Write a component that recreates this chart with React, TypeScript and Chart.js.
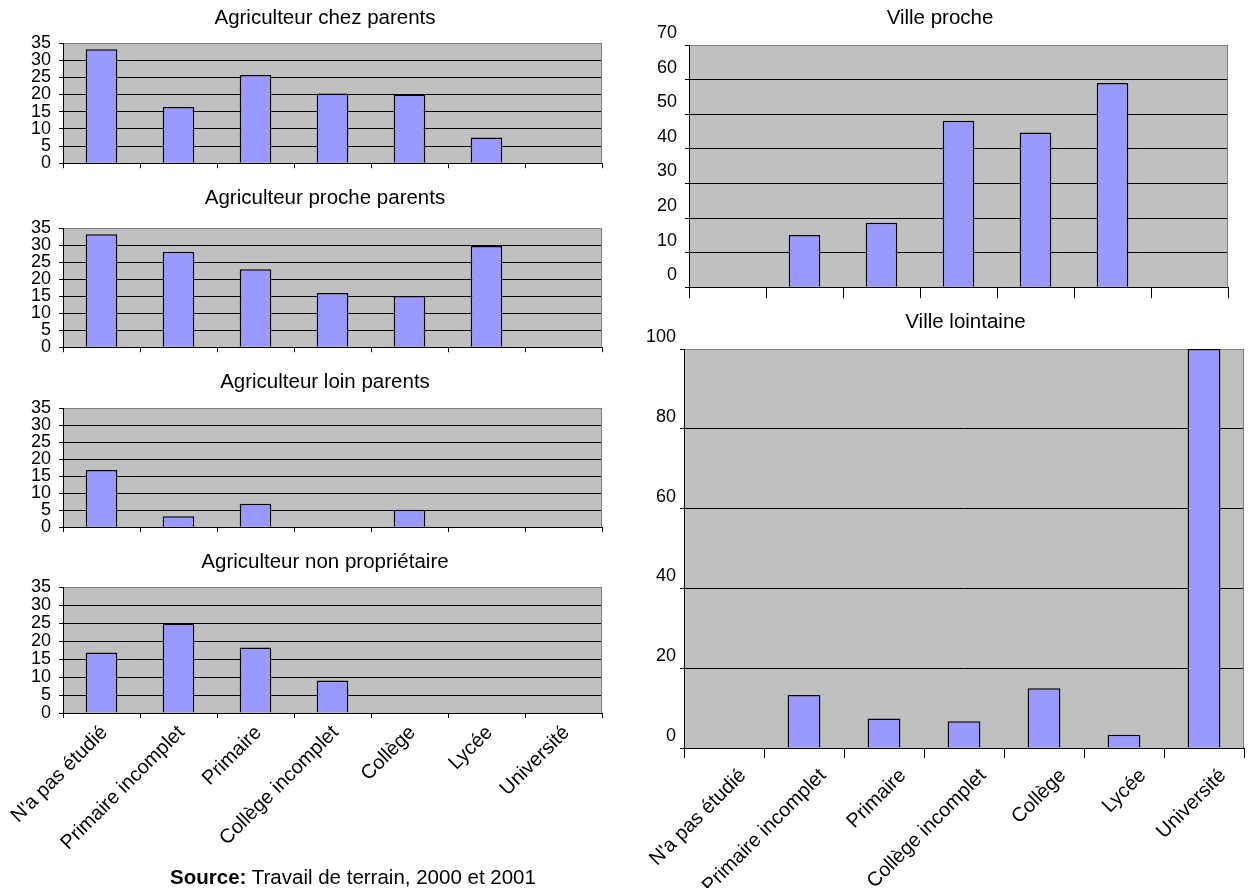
import React, { useEffect, useRef } from 'react';
import { Chart, registerables } from 'chart.js';

Chart.register(...registerables);

// ---- Data ----
const categories = [
  "N'a pas étudié",
  'Primaire incomplet',
  'Primaire',
  'Collège incomplet',
  'Collège',
  'Lycée',
  'Université',
];

const chezParents = [33.2, 16.4, 25.7, 20.3, 20.0, 7.5, 0];
const procheParents = [33.2, 28.0, 22.9, 15.9, 15.0, 29.7, 0];
const loinParents = [16.8, 3.2, 6.9, 0, 5.1, 0, 0];
const nonProprietaire = [16.8, 24.8, 18.2, 9.0, 0, 0, 0];
const villeProche = [0, 15.1, 18.6, 48.1, 44.7, 59.0, 0];
const villeLointaine = [0, 13.3, 7.4, 6.7, 15.0, 3.3, 100];

const titles = [
  'Agriculteur chez parents',
  'Agriculteur proche parents',
  'Agriculteur loin parents',
  'Agriculteur non propriétaire',
  'Ville proche',
  'Ville lointaine',
];

const FONT = "'Liberation Sans', Arial, Helvetica, sans-serif";

type Panel = {
  title: string;
  data: number[];
  yMax: number;
  yStep: number;
  left: number;
  top: number;
  width: number;
  height: number;
  plotTop: number;
  plotBottom: number;
  plotLeft: number;
  plotRight: number;
  titleY: number;
  titleDx: number;
  labelOffset: number;
  labelPad: number;
  xTickLen: number;
  xLabelOffset: number;
  xLabelPad: number;
  showX: boolean;
};

const panels: Panel[] = [
  { title: titles[0], data: chezParents, yMax: 35, yStep: 5, left: 0, top: 0, width: 610, height: 182,
    plotTop: 43, plotBottom: 169, plotLeft: 63, plotRight: 602, titleY: 18, titleDx: -7.5,
    labelOffset: 0, labelPad: 8, xTickLen: 5, xLabelOffset: 3, xLabelPad: 3, showX: false },
  { title: titles[1], data: procheParents, yMax: 35, yStep: 5, left: 0, top: 180, width: 610, height: 186,
    plotTop: 228, plotBottom: 354, plotLeft: 63, plotRight: 602, titleY: 198, titleDx: -7.5,
    labelOffset: 0, labelPad: 8, xTickLen: 5, xLabelOffset: 3, xLabelPad: 3, showX: false },
  { title: titles[2], data: loinParents, yMax: 35, yStep: 5, left: 0, top: 364, width: 610, height: 182,
    plotTop: 408, plotBottom: 534, plotLeft: 63, plotRight: 602, titleY: 382, titleDx: -7.5,
    labelOffset: 0, labelPad: 8, xTickLen: 5, xLabelOffset: 3, xLabelPad: 3, showX: false },
  { title: titles[3], data: nonProprietaire, yMax: 35, yStep: 5, left: 0, top: 544, width: 610, height: 316,
    plotTop: 587, plotBottom: 713, plotLeft: 63, plotRight: 602, titleY: 562, titleDx: -7.5,
    labelOffset: 0, labelPad: 8, xTickLen: 5, xLabelOffset: 3, xLabelPad: 3, showX: true },
  { title: titles[4], data: villeProche, yMax: 70, yStep: 10, left: 620, top: 0, width: 630, height: 306,
    plotTop: 45, plotBottom: 292, plotLeft: 689, plotRight: 1228, titleY: 18, titleDx: -18.5,
    labelOffset: -12, labelPad: 8, xTickLen: 11, xLabelOffset: 0, xLabelPad: 3, showX: false },
  { title: titles[5], data: villeLointaine, yMax: 100, yStep: 20, left: 620, top: 300, width: 630, height: 588,
    plotTop: 349, plotBottom: 748, plotLeft: 684, plotRight: 1244, titleY: 322, titleDx: 1.5,
    labelOffset: -12, labelPad: 4, xTickLen: 10, xLabelOffset: 19, xLabelPad: 6, showX: true },
];

const plotBg = {
  id: 'plotBg',
  beforeDraw(chart: any) {
    const { ctx, chartArea } = chart;
    ctx.save();
    ctx.fillStyle = '#C0C0C0';
    ctx.fillRect(chartArea.left, chartArea.top, chartArea.right - chartArea.left, chartArea.bottom - chartArea.top);
    ctx.restore();
  },
  beforeDatasetsDraw(chart: any) {
    const { ctx, chartArea } = chart;
    ctx.save();
    ctx.strokeStyle = '#808080';
    ctx.lineWidth = 1;
    ctx.beginPath();
    const x = Math.round(chartArea.right) - 0.5;
    ctx.moveTo(x, chartArea.top);
    ctx.lineTo(x, chartArea.bottom);
    ctx.stroke();
    ctx.restore();
  },
};

const panelTitle = {
  id: 'panelTitle',
  afterDraw(chart: any, _args: any, opts: any) {
    const { ctx, chartArea } = chart;
    ctx.save();
    ctx.font = `20.5px ${FONT}`;
    ctx.fillStyle = '#000';
    ctx.textAlign = 'center';
    ctx.textBaseline = 'middle';
    ctx.fillText(opts.text, (chartArea.left + chartArea.right) / 2 + opts.dx, opts.y);
    ctx.restore();
  },
};

function BarPanel({ p }: { p: Panel }) {
  const ref = useRef<HTMLCanvasElement>(null);
  useEffect(() => {
    if (!ref.current) return;
    const chart = new Chart(ref.current, {
      type: 'bar',
      data: {
        labels: categories,
        datasets: [
          {
            data: p.data,
            backgroundColor: '#9999FF',
            borderColor: '#000000',
            borderWidth: 1.5,
            barPercentage: 0.41,
            categoryPercentage: 1,
          },
        ],
      },
      options: {
        responsive: false,
        maintainAspectRatio: false,
        animation: false,
        layout: {
          padding: {
            top: p.plotTop - p.top,
            left: 0,
            right: p.left + p.width - p.plotRight,
            bottom: 0,
          },
        },
        plugins: {
          legend: { display: false },
          tooltip: { enabled: false },
          title: { display: false },
          panelTitle: { text: p.title, y: p.titleY - p.top, dx: p.titleDx },
        } as any,
        scales: {
          x: {
            grid: {
              offset: true,
              drawOnChartArea: false,
              drawTicks: true,
              tickLength: p.xTickLen,
              color: '#000',
              tickColor: '#000',
            },
            border: { display: true, color: '#000', width: 1 },
            ticks: {
              display: p.showX,
              autoSkip: false,
              minRotation: 45,
              maxRotation: 45,
              padding: p.xLabelPad,
              labelOffset: p.xLabelOffset,
              color: '#000',
              font: { family: FONT, size: 20 },
            },
            afterFit: (s: any) => {
              s.height = p.top + p.height - p.plotBottom;
            },
          } as any,
          y: {
            min: 0,
            max: p.yMax,
            grid: {
              drawTicks: true,
              tickLength: 4,
              color: (c: any) => (c.tick && c.tick.value === p.yMax ? '#808080' : '#000'),
              tickColor: '#000',
            },
            border: { display: true, color: '#000', width: 1 },
            ticks: {
              stepSize: p.yStep,
              autoSkip: false,
              padding: p.labelPad,
              labelOffset: p.labelOffset,
              color: '#000',
              font: { family: FONT, size: 18 },
            },
            afterFit: (s: any) => {
              s.width = p.plotLeft - p.left;
            },
          } as any,
        },
      },
      plugins: [plotBg, panelTitle],
    });
    return () => chart.destroy();
  }, [p]);
  return (
    <canvas
      ref={ref}
      width={p.width}
      height={p.height}
      style={{ position: 'absolute', left: p.left, top: p.top, width: p.width, height: p.height }}
    />
  );
}

export default function App() {
  return (
    <div style={{ position: 'fixed', left: 0, top: 0, width: 1250, height: 888, background: '#fff', overflow: 'hidden' }}>
      {panels.map((p) => (
        <BarPanel key={p.title} p={p} />
      ))}
      <div
        style={{
          position: 'absolute',
          left: 0,
          width: 706,
          top: 864,
          textAlign: 'center',
          fontFamily: FONT,
          fontSize: 20.5,
          lineHeight: '26px',
          color: '#000',
        }}
      >
        <b>Source:</b> Travail de terrain, 2000 et 2001
      </div>
    </div>
  );
}
